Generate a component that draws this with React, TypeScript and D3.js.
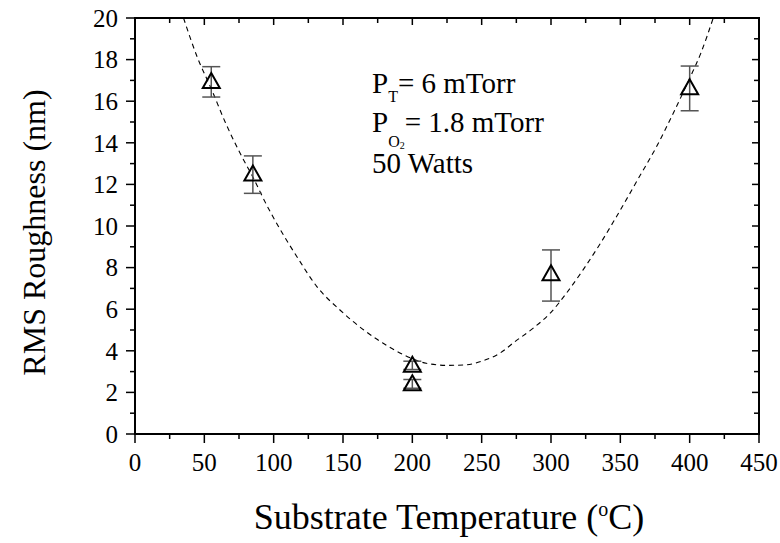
import React from 'react';
import * as d3 from 'd3';

// Measured data (substrate temperature in °C, RMS roughness in nm)
const temps = [55, 85, 200, 200, 300, 400];
const rms = [16.95, 12.5, 3.3, 2.42, 7.7, 16.65];
const errLow = [16.2, 11.57, 3.1, 2.2, 6.39, 15.54];
const errHigh = [17.66, 13.37, 3.5, 2.62, 8.85, 17.69];

// Dashed guide curve
const fitT = [35, 45, 55, 65, 75, 85, 95, 105, 117, 131, 148, 165, 179, 194, 210, 225, 238, 250, 263, 274, 287, 300, 311, 323, 335, 345, 364, 376, 388, 400, 408, 417];
const fitR = [20.0, 18.1, 16.6, 15.0, 13.6, 12.35, 11.0, 9.8, 8.5, 7.1, 5.95, 5.0, 4.36, 3.8, 3.4, 3.3, 3.32, 3.5, 3.88, 4.44, 5.08, 5.85, 6.76, 7.88, 9.1, 10.2, 12.4, 13.8, 15.4, 17.1, 18.3, 20.0];

const xTicks = [0, 50, 100, 150, 200, 250, 300, 350, 400, 450];
const xMinor = [25, 75, 125, 175, 225, 275, 325, 375, 425];
const yTicks = [0, 2, 4, 6, 8, 10, 12, 14, 16, 18, 20];
const yMinor = [1, 3, 5, 7, 9, 11, 13, 15, 17, 19];

const FONT = '"Liberation Serif", "Times New Roman", serif';

export default function App() {
  const W = 780, H = 543;
  const L = 135, R = 759, T = 18, B = 434;
  const x = d3.scaleLinear().domain([0, 450]).range([L, R]);
  const y = d3.scaleLinear().domain([0, 20]).range([B, T]);

  const fitPts: [number, number][] = fitT.map((t, i) => [t, fitR[i]]);
  const line = d3.line<[number, number]>()
    .x(d => x(d[0]))
    .y(d => y(d[1]))
    .curve(d3.curveMonotoneX);

  const tri = (cx: number, cy: number) =>
    `M${cx},${cy - 8.5}L${cx + 8.5},${cy + 6.5}L${cx - 8.5},${cy + 6.5}Z`;

  return (
    <svg width={W} height={H} style={{ position: 'absolute', left: 0, top: 0, background: '#fff' }}
      fontFamily={FONT}>
      <defs>
        <clipPath id="plotClip">
          <rect x={L} y={T} width={R - L} height={B - T} />
        </clipPath>
      </defs>
      <rect x={0} y={0} width={W} height={H} fill="#fff" />

      {/* dashed curve */}
      <path d={line(fitPts) || ''} fill="none" stroke="#000" strokeWidth={1.1}
        strokeDasharray="5,4" clipPath="url(#plotClip)" />

      {/* error bars */}
      {temps.map((t, i) => (
        <g key={'e' + i} stroke="#555" strokeWidth={1.5}>
          <line x1={x(t)} x2={x(t)} y1={y(errLow[i])} y2={y(errHigh[i])} />
          <line x1={x(t) - 9} x2={x(t) + 9} y1={y(errLow[i])} y2={y(errLow[i])} />
          <line x1={x(t) - 9} x2={x(t) + 9} y1={y(errHigh[i])} y2={y(errHigh[i])} />
        </g>
      ))}

      {/* markers */}
      {temps.map((t, i) => (
        <path key={'m' + i} d={tri(x(t), y(rms[i]))} fill="none" stroke="#000" strokeWidth={2} strokeLinejoin="miter" />
      ))}

      {/* frame */}
      <rect x={L} y={T} width={R - L} height={B - T} fill="none" stroke="#000" strokeWidth={2} />

      {/* x ticks */}
      {xTicks.map(v => (
        <g key={'xt' + v} stroke="#000" strokeWidth={1.5}>
          <line x1={x(v)} x2={x(v)} y1={B} y2={B + 9} />
          <line x1={x(v)} x2={x(v)} y1={T} y2={T + 7} />
        </g>
      ))}
      {xMinor.map(v => (
        <g key={'xm' + v} stroke="#000" strokeWidth={1.5}>
          <line x1={x(v)} x2={x(v)} y1={B} y2={B + 5} />
          <line x1={x(v)} x2={x(v)} y1={T} y2={T + 5} />
        </g>
      ))}
      {/* y ticks */}
      {yTicks.map(v => (
        <g key={'yt' + v} stroke="#000" strokeWidth={1.5}>
          <line x1={L - 9} x2={L} y1={y(v)} y2={y(v)} />
          <line x1={R - 7} x2={R} y1={y(v)} y2={y(v)} />
        </g>
      ))}
      {yMinor.map(v => (
        <g key={'ym' + v} stroke="#000" strokeWidth={1.5}>
          <line x1={L - 5} x2={L} y1={y(v)} y2={y(v)} />
          <line x1={R - 5} x2={R} y1={y(v)} y2={y(v)} />
        </g>
      ))}

      {/* tick labels */}
      {xTicks.map(v => (
        <text key={'xl' + v} x={x(v)} y={471} textAnchor="middle" fontSize={25} fill="#000">{v}</text>
      ))}
      {yTicks.map(v => (
        <text key={'yl' + v} x={118} y={y(v)} dy="0.35em" textAnchor="end" fontSize={25} fill="#000">{v}</text>
      ))}

      {/* axis titles */}
      <text x={449} y={529} textAnchor="middle" fontSize={36} fill="#000">
        Substrate Temperature (<tspan dy={-13} fontSize={20}>o</tspan><tspan dy={13}>C)</tspan>
      </text>
      <text transform={`translate(45,${(82 + 383) / 2}) rotate(-90)`} textAnchor="middle" fontSize={32} fill="#000">
        RMS Roughness (nm)
      </text>

      {/* annotation */}
      <g fontSize={29} fill="#000">
        <text x={372} y={93}>P<tspan dy={9} fontSize={16}>T</tspan><tspan dy={-9}>= 6 mTorr</tspan></text>
        <text x={372} y={132}>P<tspan dy={15} fontSize={16}>O</tspan><tspan dy={2} fontSize={10}>2</tspan><tspan dy={-17}>= 1.8 mTorr</tspan></text>
        <text x={372} y={173}>50 Watts</text>
      </g>
    </svg>
  );
}
